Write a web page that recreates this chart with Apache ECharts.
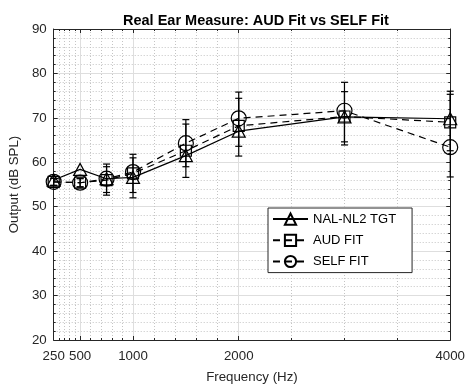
<!DOCTYPE html>
<html>
<head>
<meta charset="utf-8">
<script src="https://cdn.jsdelivr.net/npm/echarts@6/dist/echarts.min.js"></script>
<style>
  html, body { margin: 0; padding: 0; background: #fff; }
  #chart { width: 468px; height: 389px; }
</style>
</head>
<body>
<div id="chart"></div>
<script>
// test frequencies (Hz)
const freqs = [250, 500, 750, 1000, 1500, 2000, 3000, 4000];

// output levels (dB SPL)
const tgtVals  = [56.0, 58.4, 56.3, 56.6, 61.5, 67.0, 70.2, 69.8];
const audVals  = [55.6, 55.4, 56.0, 57.5, 62.6, 68.2, 70.3, 69.0];
const selfVals = [55.6, 55.4, 56.3, 57.8, 64.3, 69.9, 71.6, 63.4];

// error bar ends
const audLow   = [54.8, 54.5, 52.6, 53.2, 56.6, 61.4, 63.9, 62.6];
const audHigh  = [56.4, 56.3, 59.0, 61.0, 68.6, 74.4, 75.9, 75.3];
const selfLow  = [54.8, 54.4, 53.2, 52.0, 59.0, 63.6, 64.6, 56.7];
const selfHigh = [56.4, 56.4, 59.6, 61.8, 69.6, 75.8, 78.0, 76.0];

// axis ticks
const xTicks = [250, 500, 1000, 2000, 4000];
const xMinorTicks = [300, 350, 400, 450, 600, 700, 800, 900,
  1200, 1400, 1600, 1800, 2500, 3000, 3500];

const axisColor = '#262626';
const majorGrid = '#dedede';
const minorGrid = '#c4c4c4';

function pairs(vals) {
  return freqs.map((f, i) => [f, vals[i]]);
}

function errorBars(low, high) {
  return {
    type: 'custom',
    silent: true,
    z: 3,
    data: freqs.map((f, i) => [f, low[i], high[i]]),
    encode: { x: 0, y: [1, 2] },
    renderItem: function (params, api) {
      const lo = api.coord([api.value(0), api.value(1)]);
      const hi = api.coord([api.value(0), api.value(2)]);
      const cw = 3.5;
      const style = { stroke: '#000', lineWidth: 1.2 };
      return {
        type: 'group',
        children: [
          { type: 'line', shape: { x1: lo[0], y1: lo[1], x2: hi[0], y2: hi[1] }, style: style },
          { type: 'line', shape: { x1: lo[0] - cw, y1: lo[1], x2: lo[0] + cw, y2: lo[1] }, style: style },
          { type: 'line', shape: { x1: hi[0] - cw, y1: hi[1], x2: hi[0] + cw, y2: hi[1] }, style: style }
        ]
      };
    }
  };
}

const markerStyle = { color: 'none', borderColor: '#000', borderWidth: 1.2 };

function xAxisBase(extra) {
  return Object.assign({
    type: 'value',
    min: 250,
    max: 4000,
    axisLine: { show: false },
    axisLabel: { show: false },
    axisTick: { show: false },
    splitLine: { show: false }
  }, extra);
}

function yAxisBase(extra) {
  return Object.assign({
    type: 'value',
    min: 20,
    max: 90,
    interval: 10,
    axisLine: { show: true, lineStyle: { color: axisColor, width: 1 } },
    axisTick: { show: true, inside: true, length: 4, lineStyle: { color: axisColor } },
    minorTick: { show: true, splitNumber: 5, length: 2, lineStyle: { color: axisColor } },
    axisLabel: { show: false },
    splitLine: { show: false },
    minorSplitLine: { show: false }
  }, extra);
}

const chart = echarts.init(document.getElementById('chart'));

const option = {
  animation: false,
  backgroundColor: '#fff',
  title: {
    text: 'Real Ear Measure: AUD Fit vs SELF Fit',
    left: 118,
    top: 8,
    textStyle: { fontFamily: 'Liberation Sans', fontSize: 14.5, fontWeight: 'bold', color: '#000' }
  },
  grid: { left: 52, right: 15, top: 29, bottom: 46, containLabel: false },
  legend: {
    orient: 'vertical',
    left: 268,
    top: 208,
    padding: [3, 16, 3, 4],
    itemGap: 5,
    itemWidth: 35,
    itemHeight: 14,
    backgroundColor: '#fff',
    borderColor: axisColor,
    borderWidth: 1,
    borderRadius: 0,
    textStyle: { fontFamily: 'Liberation Sans', fontSize: 13, color: '#000' },
    data: ['NAL-NL2 TGT', 'AUD FIT', 'SELF FIT']
  },
  xAxis: [
    xAxisBase({
      position: 'bottom',
      name: 'Frequency (Hz)',
      nameLocation: 'middle',
      nameGap: 31,
      nameTextStyle: { fontFamily: 'Liberation Sans', fontSize: 13.3, color: axisColor },
      axisLine: { show: true, onZero: false, lineStyle: { color: axisColor, width: 1 } },
      axisTick: { show: true, inside: true, length: 4, customValues: xTicks, lineStyle: { color: axisColor } },
      axisLabel: {
        show: true, customValues: xTicks, margin: 10, hideOverlap: false,
        formatter: function (v) { return String(v); },
        fontFamily: 'Liberation Sans', fontSize: 13.3, color: axisColor
      },
      splitLine: { show: true, lineStyle: { color: majorGrid, width: 1 } }
    }),
    xAxisBase({
      position: 'top',
      axisLine: { show: true, onZero: false, lineStyle: { color: axisColor, width: 1 } },
      axisTick: { show: true, inside: true, length: 4, customValues: xTicks, lineStyle: { color: axisColor } }
    }),
    xAxisBase({
      position: 'bottom',
      axisTick: { show: true, inside: true, length: 2, customValues: xMinorTicks, lineStyle: { color: axisColor } },
      splitLine: { show: true, lineStyle: { color: minorGrid, width: 1, type: [1, 2] } }
    }),
    xAxisBase({
      position: 'top',
      axisTick: { show: true, inside: true, length: 2, customValues: xMinorTicks, lineStyle: { color: axisColor } }
    })
  ],
  yAxis: [
    yAxisBase({
      position: 'left',
      name: 'Output (dB SPL)',
      nameLocation: 'middle',
      nameGap: 31,
      nameTextStyle: { fontFamily: 'Liberation Sans', fontSize: 13.3, color: axisColor },
      axisLabel: { show: true, margin: 7, fontFamily: 'Liberation Sans', fontSize: 13.3, color: axisColor },
      splitLine: { show: true, lineStyle: { color: majorGrid, width: 1 } },
      minorSplitLine: { show: true, lineStyle: { color: minorGrid, width: 1, type: [1, 2] } }
    }),
    yAxisBase({ position: 'right' })
  ],
  series: [
    {
      name: 'NAL-NL2 TGT',
      type: 'line',
      data: pairs(tgtVals),
      symbol: 'triangle',
      symbolSize: [13, 12],
      itemStyle: markerStyle,
      lineStyle: { color: '#000', width: 1.2, type: 'solid' },
      z: 4
    },
    {
      name: 'AUD FIT',
      type: 'line',
      data: pairs(audVals),
      symbol: 'rect',
      symbolSize: 11,
      itemStyle: markerStyle,
      lineStyle: { color: '#000', width: 1.2, type: [7, 5] },
      z: 4
    },
    {
      name: 'SELF FIT',
      type: 'line',
      data: pairs(selfVals),
      symbol: 'circle',
      symbolSize: 15,
      itemStyle: markerStyle,
      lineStyle: { color: '#000', width: 1.2, type: [7, 5] },
      z: 4
    },
    errorBars(audLow, audHigh),
    errorBars(selfLow, selfHigh)
  ]
};

chart.setOption(option);
</script>
</body>
</html>
